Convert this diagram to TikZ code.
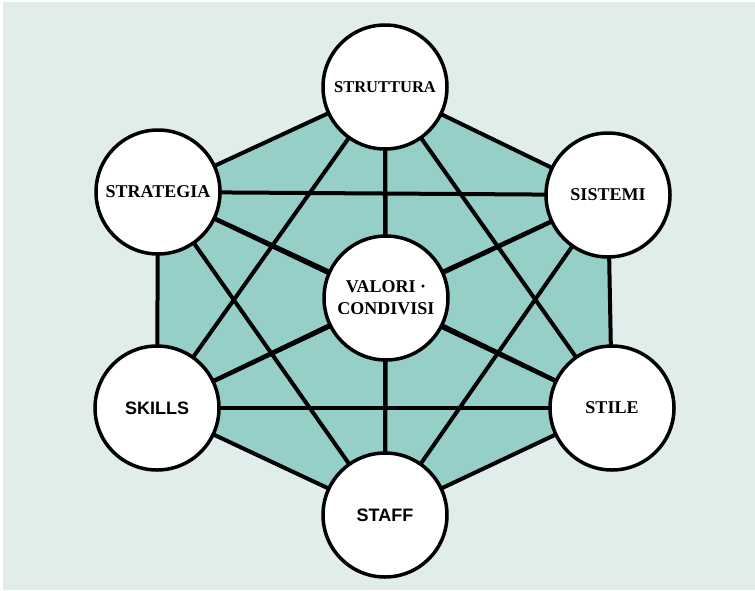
\documentclass[tikz,border=0pt]{standalone}
\usepackage{fontspec}
\setmainfont{Liberation Serif}
\setsansfont{Liberation Sans}
\definecolor{panelbg}{RGB}{224,237,234}
\definecolor{hexfill}{RGB}{150,207,199}
\begin{document}
\begin{tikzpicture}[x=1pt,y=-1pt,
  element/.style={circle,draw=black,line width=3.5pt,fill=white,
    minimum size=124pt,inner sep=0pt,align=center,
    font=\fontsize{18}{22}\selectfont\bfseries},
  sanslabel/.style={font=\fontsize{18}{22}\selectfont\sffamily\bfseries},
  link/.style={line width=4pt,draw=black}]
  % canvas and backdrop panel
  \fill[white] (0,0) rectangle (755,590);
  \fill[panelbg] (3,2) rectangle (755,590);
  \useasboundingbox (0,0) rectangle (755,590);

  % anchor points for the seven elements
  \coordinate (cStr)  at (385,87);
  \coordinate (cSgy)  at (158,192);
  \coordinate (cSys)  at (608,195);
  \coordinate (cVal)  at (386,298);
  \coordinate (cSkl)  at (157,408);
  \coordinate (cSti)  at (612,408);
  \coordinate (cStf)  at (385,515);

  % shaded hexagon through the outer elements
  \fill[hexfill] (cStr) -- (cSys) -- (cSti) -- (cStf) -- (cSkl) -- (cSgy) -- cycle;
  \draw[link,line join=round] (cStr) -- (cSys) -- (cSti) -- (cStf) -- (cSkl) -- (cSgy) -- cycle;

  % every element linked with every other one
  \foreach \a/\b in {cStr/cVal,cSgy/cVal,cSys/cVal,cSkl/cVal,cSti/cVal,cStf/cVal,
                     cStr/cSkl,cStr/cSti,cStr/cStf,
                     cSgy/cSys,cSgy/cSti,cSgy/cStf,
                     cSys/cSkl,cSys/cStf,
                     cSkl/cSti}
    \draw[link] (\a) -- (\b);

  % the seven elements
  \node[element,font=\fontsize{16.5}{20}\selectfont\bfseries] (strut) at (cStr) {STRUTTURA};
  \node[element] (strat) at (cSgy) {STRATEGIA};
  \node[element] (sist)  at (cSys) {SISTEMI};
  \node[element] (val)   at (cVal) {VALORI ·\\CONDIVISI};
  \node[element,sanslabel] (skill) at (cSkl) {SKILLS};
  \node[element] (stile) at (cSti) {STILE};
  \node[element,sanslabel] (staff) at (cStf) {STAFF};
\end{tikzpicture}
\end{document}
